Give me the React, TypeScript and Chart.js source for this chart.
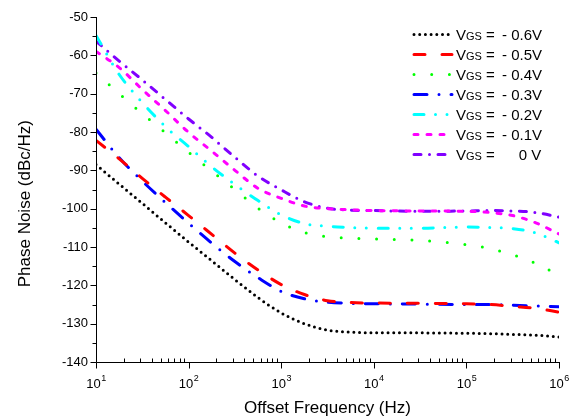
import React, { useEffect, useRef } from 'react';
import { Chart, registerables } from 'chart.js';

Chart.register(...registerables);

const FONT = '"Liberation Sans", Arial, Helvetica, sans-serif';

// Offset frequencies (Hz)
const frequencies = [10, 17.8, 31.6, 56.2, 100, 178, 316, 562, 1000, 1780, 3160, 5620, 10000, 31600, 100000, 178000, 316000, 562000, 1000000];

// Phase noise (dBc/Hz) per gate-source voltage
const noiseVgsM06 = [-88.5, -93.6, -98.6, -103.7, -108.7, -113.6, -118.5, -123.2, -127.2, -130.0, -131.7, -132.2, -132.4, -132.4, -132.5, -132.6, -132.8, -133.0, -133.5];
const noiseVgsM05 = [-82.2, -87.0, -92.1, -97.0, -101.8, -106.7, -111.6, -116.0, -119.8, -122.4, -124.0, -124.5, -124.6, -124.7, -124.8, -125.0, -125.5, -126.0, -127.0];
const noiseVgsM04 = [-64.6, -70.0, -75.2, -80.2, -85.3, -90.2, -95.0, -99.9, -103.7, -106.2, -107.3, -107.7, -107.9, -108.3, -109.4, -110.4, -112.0, -114.3, -117.3];
const noiseVgsM03 = [-79.3, -86.7, -92.8, -98.4, -103.8, -109.0, -113.8, -118.0, -121.6, -123.5, -124.4, -124.7, -124.8, -124.9, -125.0, -125.0, -125.2, -125.4, -125.6];
const noiseVgsM02 = [-54.8, -65.0, -72.3, -78.6, -83.8, -89.1, -93.7, -97.9, -101.6, -103.9, -104.6, -104.9, -105.1, -105.1, -104.8, -104.9, -105.2, -106.3, -108.9];
const noiseVgsM01 = [-59.0, -63.2, -68.9, -74.4, -80.1, -85.0, -90.0, -94.7, -97.3, -99.3, -100.0, -100.3, -100.5, -100.6, -100.7, -101.0, -101.8, -103.7, -106.6];
const noiseVgs0 = [-56.3, -61.5, -66.4, -71.5, -76.6, -81.4, -86.6, -91.5, -95.1, -98.2, -99.9, -100.4, -100.5, -100.7, -100.6, -100.5, -100.6, -101.0, -102.2];

const vgsValues = ['- 0.6V', '- 0.5V', '- 0.4V', '- 0.3V', '- 0.2V', '- 0.1V', '    0 V'];
const seriesValues = [noiseVgsM06, noiseVgsM05, noiseVgsM04, noiseVgsM03, noiseVgsM02, noiseVgsM01, noiseVgs0];
const seriesColors = ['#000000', '#FF0000', '#00FF00', '#0000FF', '#00FFFF', '#FF00FF', '#8000FF'];
const seriesDashes = [
  [0, 5.7],
  [11, 17],
  [0, 17.7],
  [13, 12, 0, 12],
  [10, 11.5, 0, 11.5, 0, 12],
  [4, 9],
  [7, 8.5, 0, 8.5],
];

const yMin = -140;
const yMax = -50;
const yStep = 10;
const xDecades = [1, 2, 3, 4, 5, 6];

const originAxesPlugin = {
  id: 'originAxes',
  afterDraw(chart: any) {
    const ctx = chart.ctx as CanvasRenderingContext2D;
    const xs = chart.scales.x;
    const ys = chart.scales.y;
    const { left, right, top, bottom } = chart.chartArea;
    const L = Math.round(left) + 0.5;
    const B = Math.round(bottom) + 0.5;
    ctx.save();
    ctx.strokeStyle = '#000';
    ctx.lineWidth = 1;
    ctx.setLineDash([]);
    ctx.beginPath();
    ctx.moveTo(L, Math.round(top));
    ctx.lineTo(L, B);
    ctx.lineTo(Math.round(right) + 1, B);
    // y ticks (outward)
    for (let v = yMin; v <= yMax; v += yStep / 2) {
      const y = Math.round(ys.getPixelForValue(v)) + 0.5;
      const len = (v - yMin) % yStep === 0 ? 6 : 4;
      ctx.moveTo(L - len, y);
      ctx.lineTo(L, y);
    }
    // x ticks: majors outward, minors inward
    for (const d of xDecades) {
      const x = Math.round(xs.getPixelForValue(Math.pow(10, d))) + 0.5;
      ctx.moveTo(x, B);
      ctx.lineTo(x, B + 6);
      if (d < xDecades[xDecades.length - 1]) {
        for (let k = 2; k <= 9; k++) {
          const xm = Math.round(xs.getPixelForValue(k * Math.pow(10, d))) + 0.5;
          ctx.moveTo(xm, B);
          ctx.lineTo(xm, B - 4);
        }
      }
    }
    ctx.stroke();

    // x tick labels 10^n
    ctx.fillStyle = '#000';
    ctx.textBaseline = 'alphabetic';
    ctx.textAlign = 'left';
    for (const d of xDecades) {
      const x = xs.getPixelForValue(Math.pow(10, d));
      ctx.font = `13px ${FONT}`;
      const wBase = ctx.measureText('10').width;
      ctx.font = `9px ${FONT}`;
      const wExp = ctx.measureText(String(d)).width;
      const x0 = x - (wBase + wExp) / 2;
      ctx.font = `13px ${FONT}`;
      ctx.fillText('10', x0, 388);
      ctx.font = `9px ${FONT}`;
      ctx.fillText(String(d), x0 + wBase + 0.5, 381);
    }

    // legend
    chart.data.datasets.forEach((ds: any, i: number) => {
      const yc = 34.5 + i * 20;
      ctx.save();
      ctx.strokeStyle = ds.borderColor;
      ctx.lineWidth = ds.borderWidth;
      ctx.lineCap = 'round';
      ctx.setLineDash(ds.borderDash);
      ctx.beginPath();
      ctx.moveTo(414, yc);
      ctx.lineTo(452, yc);
      ctx.stroke();
      ctx.restore();
      ctx.fillStyle = '#000';
      ctx.font = `15px ${FONT}`;
      ctx.fillText('V', 456, yc + 5.5);
      const wV = ctx.measureText('V').width;
      ctx.font = `11px ${FONT}`;
      ctx.fillText('GS', 456 + wV, yc + 5.5);
      ctx.font = `15px ${FONT}`;
      ctx.fillText('=', 486, yc + 5.5);
      ctx.fillText(vgsValues[i], 502, yc + 5.5);
    });
    ctx.restore();
  },
};

export default function App() {
  const canvasRef = useRef<HTMLCanvasElement | null>(null);

  useEffect(() => {
    document.body.style.margin = '0';
    const canvas = canvasRef.current;
    if (!canvas) return;
    const datasets = seriesValues.map((vals, i) => ({
      label: 'VGS = ' + vgsValues[i].trim(),
      data: frequencies.map((f, j) => ({ x: f, y: vals[j] })),
      borderColor: seriesColors[i],
      backgroundColor: seriesColors[i],
      borderWidth: 3,
      borderDash: seriesDashes[i],
      borderCapStyle: 'round',
      borderJoinStyle: 'round',
      pointRadius: 0,
      fill: false,
      cubicInterpolationMode: 'monotone',
    }));
    const chart = new Chart(canvas, {
      type: 'line',
      data: { datasets },
      options: {
        animation: false,
        responsive: false,
        devicePixelRatio: 1,
        layout: { padding: { top: 17, right: 22, bottom: 0, left: 0 } },
        plugins: { legend: { display: false }, tooltip: { enabled: false } },
        scales: {
          x: {
            type: 'logarithmic',
            min: 10,
            max: 1000000,
            ticks: { display: false },
            grid: { display: false, drawTicks: false },
            border: { display: false },
            title: {
              display: true,
              text: 'Offset Frequency (Hz)',
              color: '#000',
              font: { size: 17, family: FONT },
              padding: { top: 0, bottom: 1 },
            },
            afterFit: (s: any) => { s.height = 58; },
          },
          y: {
            type: 'linear',
            min: yMin,
            max: yMax,
            ticks: { stepSize: yStep, padding: 8, color: '#000', font: { size: 13, family: FONT } },
            grid: { display: false, drawTicks: false },
            border: { display: false },
            title: {
              display: true,
              text: 'Phase Noise (dBc/Hz)      ',
              color: '#000',
              font: { size: 17, family: FONT },
              padding: { top: 15, bottom: 0 },
            },
            afterFit: (s: any) => { s.width = 96; },
          },
        },
      },
      plugins: [originAxesPlugin],
    } as any);
    return () => chart.destroy();
  }, []);

  return (
    <div style={{ width: 581, height: 420, background: '#fff' }}>
      <canvas ref={canvasRef} width={581} height={420} style={{ display: 'block' }} />
    </div>
  );
}
